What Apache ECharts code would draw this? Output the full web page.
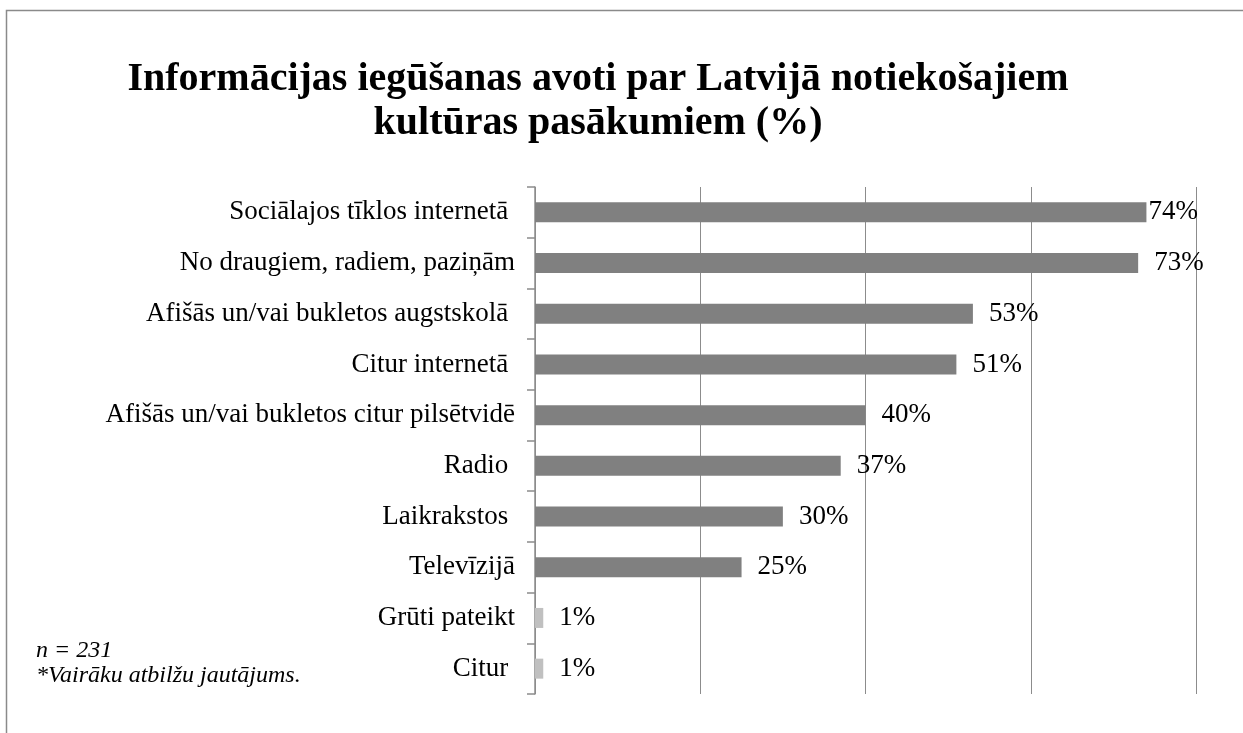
<!DOCTYPE html>
<html>
<head>
<meta charset="utf-8">
<script src="https://cdn.jsdelivr.net/npm/echarts@6/dist/echarts.min.js"></script>
<style>
  html, body { margin: 0; padding: 0; background: #fff; }
  #chart { width: 1243px; height: 733px; }
</style>
</head>
<body>
<div id="chart"></div>
<script>
const categories = [
  'Sociālajos tīklos internetā ',
  'No draugiem, radiem, paziņām',
  'Afišās un/vai bukletos augstskolā ',
  'Citur internetā ',
  'Afišās un/vai bukletos citur pilsētvidē',
  'Radio ',
  'Laikrakstos ',
  'Televīzijā',
  'Grūti pateikt',
  'Citur '
]
const values = [74, 73, 53, 51, 40, 37, 30, 25, 1, 1]
const lightBars = ['Grūti pateikt', 'Citur ']
const xTicks = { min: 0, max: 80, interval: 20 }

const serif = '"Liberation Serif", "DejaVu Serif", serif'

const chart = echarts.init(document.getElementById('chart'))

chart.setOption({
  animation: false,
  title: {
    text: 'Informācijas iegūšanas avoti par Latvijā notiekošajiem\nkultūras pasākumiem (%)',
    left: 593,
    textAlign: 'center',
    top: 53,
    textStyle: { fontFamily: serif, fontSize: 40, fontWeight: 'bold', color: '#000', lineHeight: 44 }
  },
  graphic: [
    {
      type: 'rect',
      shape: { x: 6.5, y: 10.5, width: 1300, height: 800 },
      style: { fill: 'none', stroke: '#8a8a8a', lineWidth: 1.5 },
      silent: true
    },
    {
      type: 'text',
      left: 36,
      top: 638,
      style: {
        text: 'n = 231\n*Vairāku atbilžu jautājums.',
        font: 'italic 24px ' + serif,
        lineHeight: 25,
        fill: '#000'
      }
    }
  ],
  grid: { left: 535, right: 47, top: 187, bottom: 39 },
  xAxis: {
    type: 'value',
    min: xTicks.min,
    max: xTicks.max,
    interval: xTicks.interval,
    axisLabel: { show: false },
    axisLine: { show: false },
    axisTick: { show: false },
    splitLine: { show: true, lineStyle: { color: '#8c8c8c', width: 1 } }
  },
  yAxis: {
    type: 'category',
    inverse: true,
    data: categories,
    axisLine: { show: true, lineStyle: { color: '#8c8c8c', width: 1.5 } },
    axisTick: { show: true, length: 8, lineStyle: { color: '#8c8c8c', width: 1.5 } },
    axisLabel: { margin: 20, fontFamily: serif, fontSize: 27, color: '#000' }
  },
  series: [{
    type: 'bar',
    barWidth: 20,
    data: values.map((v, i) => ({
      value: v,
      itemStyle: { color: lightBars.includes(categories[i]) ? '#c0c0c0' : '#808080' },
      label: i === 0 ? { distance: 2 } : undefined
    })),
    label: {
      show: true,
      position: 'right',
      distance: 16,
      formatter: '{c}%',
      fontFamily: serif,
      fontSize: 27,
      color: '#000'
    }
  }]
})
</script>
</body>
</html>
